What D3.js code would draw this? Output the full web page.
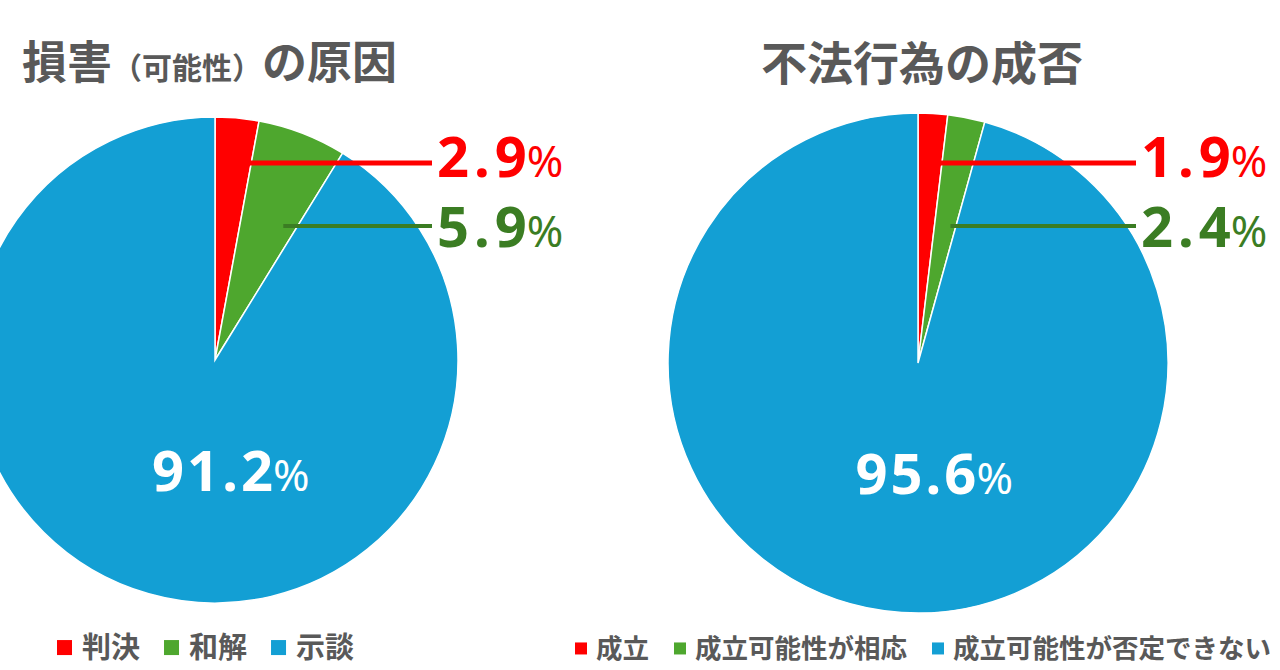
<!DOCTYPE html>
<html><head><meta charset="utf-8">
<script src="https://cdn.jsdelivr.net/npm/d3@7/dist/d3.min.js"></script>
<style>
html,body{margin:0;padding:0;background:#fff;}
svg{display:block;}
text{font-family:"Noto Sans CJK JP","Noto Sans",sans-serif;}
</style></head>
<body>
<svg id="chart" width="1280" height="670"></svg>
<script>
// ---- data ----
const categoriesA = ["判決", "和解", "示談"];
const valuesA = [2.9, 5.9, 91.2];
const categoriesB = ["成立", "成立可能性が相応", "成立可能性が否定できない"];
const valuesB = [1.9, 2.4, 95.6];
const sliceColors = ["#ff0000", "#4ea72e", "#139fd4"];
const labelColors = ["#ff0000", "#3b7d23", "#ffffff"];
const titleA = [["損害", 45], ["（可能性）", 30], ["の原因", 45]];
const titleB = "不法行為の成否";

const svg = d3.select("#chart");
const gray = "#595959";

const numFont = '"Noto Sans", "Noto Sans CJK JP", sans-serif';

function numLabel(t, v, spacing, pctSize) {
  const s = d3.format(".1f")(v);
  t.append("tspan").attr("font-size", 56).attr("font-weight", 700)
    .attr("letter-spacing", spacing).text(s.slice(0, -1));
  t.append("tspan").attr("font-size", 56).attr("font-weight", 700)
    .text(s.slice(-1));
  t.append("tspan").attr("font-size", pctSize).attr("font-weight", 400).text("%");
}

function drawPie(cfg) {
  const g = svg.append("g");
  const pie = d3.pie().sort(null).value(d => d);
  const arcs = pie(cfg.values);
  const arc = d3.arc().innerRadius(0).outerRadius(cfg.r);
  g.selectAll("path.slice").data(arcs).join("path")
    .attr("class", "slice")
    .attr("transform", `translate(${cfg.cx},${cfg.cy})`)
    .attr("d", arc)
    .attr("fill", (d, i) => sliceColors[i])
    .attr("stroke", "#fff")
    .attr("stroke-width", 1.5);

  // outside labels for small slices
  const rows = [{line: 163, base: 177, w: 5}, {line: 226, base: 247, w: 4}];
  arcs.slice(0, 2).forEach((a, i) => {
    const row = rows[i];
    const ang = a.startAngle + cfg.frac[i] * (a.endAngle - a.startAngle);
    const x0 = cfg.cx + (cfg.cy - row.line) * Math.tan(ang);
    g.append("line")
      .attr("x1", x0).attr("y1", row.line)
      .attr("x2", cfg.labelX - 5).attr("y2", row.line)
      .attr("stroke", labelColors[i]).attr("stroke-width", row.w);
    const t = g.append("text")
      .attr("x", cfg.labelX).attr("y", row.base)
      .attr("fill", labelColors[i])
      .style("font-family", numFont);
    numLabel(t, cfg.values[i], 5, 44);
  });
  // inside label for big slice
  const t = g.append("text")
    .attr("x", cfg.cx + cfg.r * 0.065).attr("y", cfg.cy + 131)
    .attr("text-anchor", "middle")
    .attr("fill", labelColors[2])
    .style("font-family", numFont);
  numLabel(t, cfg.values[2], 3, 44);
}

function drawLegend(cats, x, base, fs, sq, gapText, gapItem) {
  let cx = x;
  cats.forEach((c, i) => {
    svg.append("rect").attr("x", cx).attr("y", base - fs * 0.36 - sq / 2)
      .attr("width", sq).attr("height", sq).attr("fill", sliceColors[i]);
    cx += sq + gapText;
    const t = svg.append("text").attr("x", cx).attr("y", base)
      .attr("font-size", fs).attr("fill", gray).attr("font-weight", 700).text(c);
    cx += t.node().getComputedTextLength() + gapItem;
  });
}

// titles
const tA = svg.append("text").attr("x", 22).attr("y", 79)
  .attr("fill", gray).attr("font-weight", 700);
titleA.forEach(([s, fs]) => tA.append("tspan").attr("font-size", fs).text(s));
svg.append("text").attr("x", 922).attr("y", 80).attr("text-anchor", "middle")
  .attr("fill", gray).attr("font-weight", 700).attr("font-size", 46).text(titleB);

drawPie({values: valuesA, cx: 215, cy: 360, r: 243, labelX: 437, frac: [0.75, 0.78]});
drawPie({values: valuesB, cx: 918, cy: 363, r: 250, labelX: 1141, frac: [0.9, 0.75]});

drawLegend(categoriesA, 57, 658, 29, 15, 10, 24);
drawLegend(categoriesB, 575, 658, 26.5, 12, 9, 25);
</script>
</body></html>
